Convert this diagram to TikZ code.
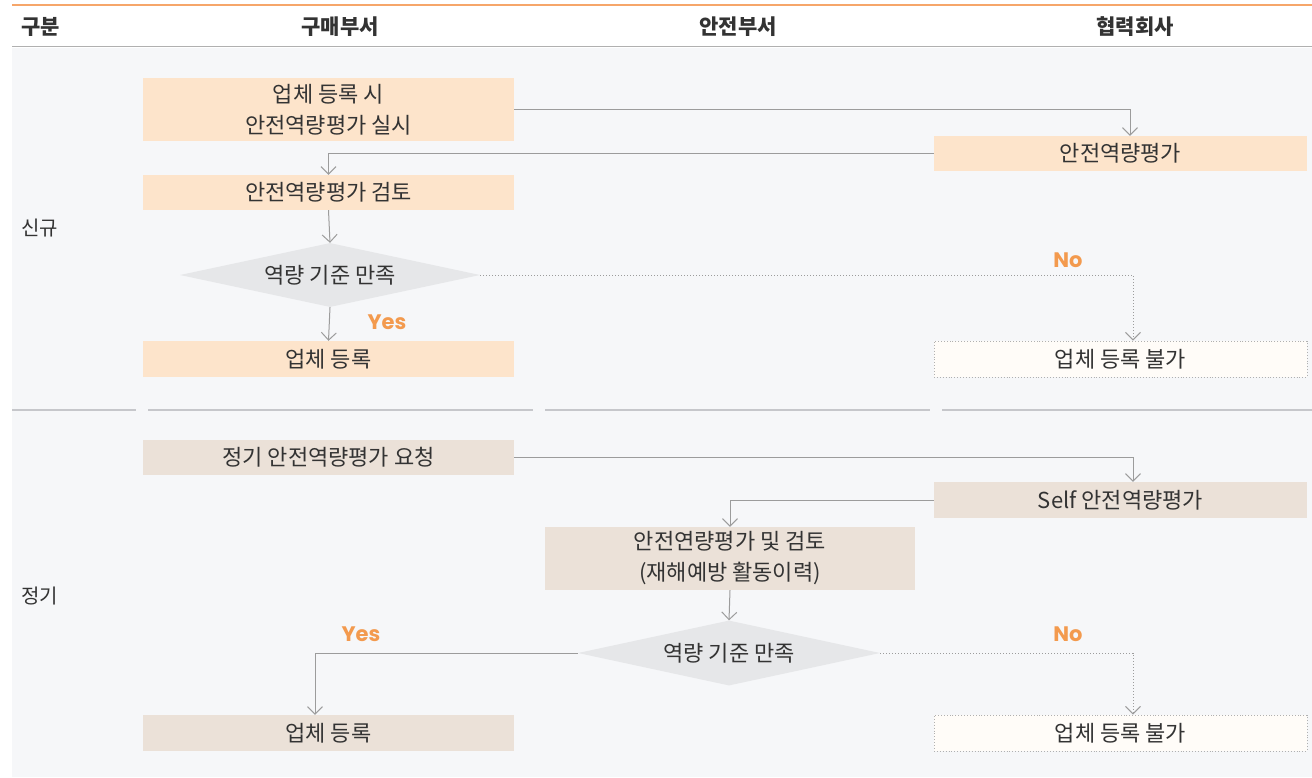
\documentclass[tikz,border=0pt]{standalone}
\usepackage{fontspec}
\setmainfont{Noto Sans CJK KR}
\newfontfamily\ynfont{Poppins}
\usetikzlibrary{shapes.geometric,arrows.meta}
\definecolor{bgc}{HTML}{F6F7F9}
\definecolor{orangebox}{HTML}{FDE4CB}
\definecolor{beigebox}{HTML}{EBE1D8}
\definecolor{diacol}{HTML}{E6E7E9}
\definecolor{nobox}{HTML}{FFFCF8}
\definecolor{linec}{HTML}{9C9C9C}
\definecolor{txt}{HTML}{333333}
\definecolor{orangetxt}{HTML}{F39A4E}
\definecolor{topline}{HTML}{F6A66A}
\definecolor{sepc}{HTML}{C6C7CB}
\tikzset{
  box/.style={rectangle,inner sep=0pt,minimum width=371pt,text=txt,font=\fontsize{22}{31}\selectfont,align=center},
  obox/.style={box,fill=orangebox},
  bbox/.style={box,fill=beigebox},
  nbox/.style={box,fill=nobox,draw=linec!80,dotted,line width=0.9pt},
  dia/.style={diamond,fill=diacol,inner sep=0pt,text=txt,font=\fontsize{22}{26}\selectfont},
  arr/.style={draw=linec,line width=1pt,-{Straight Barb[length=7.5pt,width=15pt,line width=1pt]}},
  darr/.style={arr,dotted},
  yn/.style={text=orangetxt,font=\ynfont\fontsize{21}{25}\selectfont\bfseries},
  hdr/.style={text=txt,font=\fontsize{21}{24}\selectfont\bfseries},
  side/.style={text=txt,font=\fontsize{20}{24}\selectfont,anchor=west}
}
\begin{document}
\begin{tikzpicture}[x=1pt,y=-1pt]
\useasboundingbox (0,0) rectangle (1312,777);
\fill[bgc] (12,48) rectangle (1312,777);
\draw[topline,line width=1.2pt] (12,5) -- (1312,5);
\draw[linec!80,line width=1.5pt] (12,46.5) -- (1312,46.5);
\foreach \a/\b in {12/136,148/533,545/930,942/1312}
  \draw[sepc,line width=1.2pt] (\a,410) -- (\b,410);
% headers
\node[hdr,anchor=west] (h0) at (18,27) {구분};
\node[hdr] (h1) at (340,27) {구매부서};
\node[hdr] (h2) at (738,27) {안전부서};
\node[hdr] (h3) at (1135,27) {협력회사};
\node[side] (s1) at (18,228) {신규};
\node[side] (s2) at (18,596) {정기};
% nodes
\node[obox,minimum height=63pt] (b1) at (328.5,109.5) {업체 등록 시\\안전역량평가 실시};
\node[obox,minimum height=35pt,minimum width=373pt] (b2) at (1120.5,153.5) {안전역량평가};
\node[obox,minimum height=35pt] (b3) at (328.5,192.5) {안전역량평가 검토};
\node[dia,aspect=4.69,minimum width=300pt,minimum height=64pt] (d1) at (330,275) {역량 기준 만족};
\node[obox,minimum height=36pt] (b4) at (328.5,359) {업체 등록};
\node[nbox,minimum height=36pt,minimum width=373pt] (b5) at (1120.5,359) {업체 등록 불가};
\node[bbox,minimum height=35pt] (b6) at (328.5,457.5) {정기 안전역량평가 요청};
\node[bbox,minimum height=36pt,minimum width=373pt] (b7) at (1120.5,500) {Self 안전역량평가};
\node[bbox,minimum height=63pt,minimum width=370pt] (b8) at (730,558.5) {안전연량평가 및 검토\\(재해예방 활동이력)};
\node[dia,aspect=4.65,minimum width=302pt,minimum height=65pt] (d2) at (729,653) {역량 기준 만족};
\node[bbox,minimum height=36pt] (b9) at (328.5,733) {업체 등록};
\node[nbox,minimum height=36pt,minimum width=373pt] (b10) at (1120.5,733) {업체 등록 불가};
% coordinates
\coordinate (c1) at (1130,0);
\coordinate (c2) at (1133,0);
\coordinate (c3) at (315,0);
% connectors
\draw[arr] (b1.east) -| (c1 |- b2.north);
\draw[arr] (b2.west) -| (b3.north);
\draw[arr] (b3.south) -- (d1.north);
\draw[darr] (d1.east) -| (c2 |- b5.north);
\draw[arr] (d1.south) -- (b4.north);
\node[yn] (no1) at (1068,260) {No};
\node[yn] (yes1) at (387,322) {Yes};
\draw[arr] (b6.east) -| (c2 |- b7.north);
\draw[arr] (b7.west) -| (b8.north);
\draw[arr] (b8.south) -- (d2.north);
\draw[arr] (d2.west) -| (c3 |- b9.north);
\draw[darr] (d2.east) -| (c2 |- b10.north);
\node[yn] (yes2) at (361,634) {Yes};
\node[yn] (no2) at (1068,634) {No};
\end{tikzpicture}
\end{document}
